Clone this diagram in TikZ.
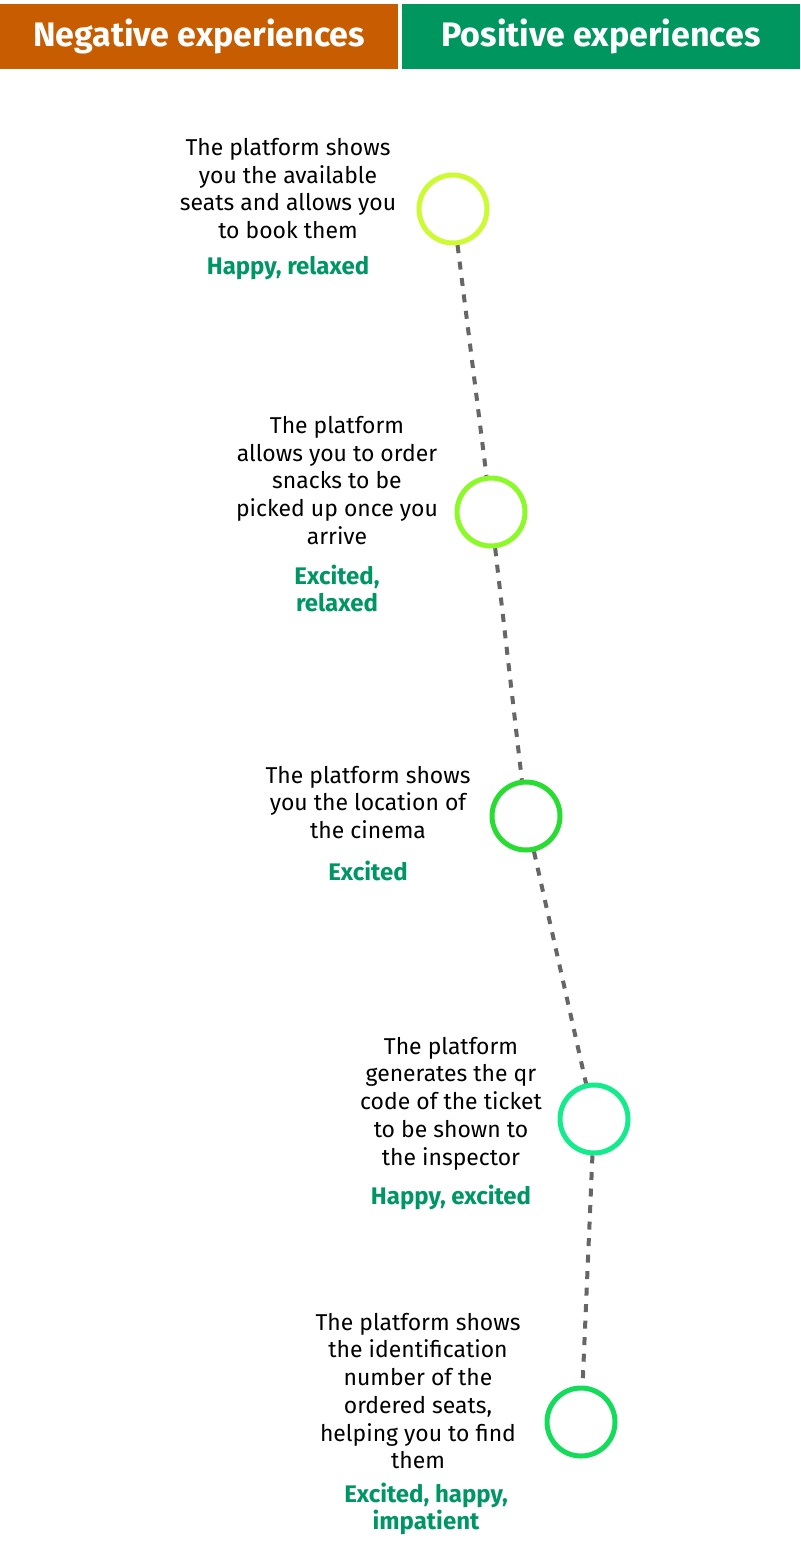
\documentclass[tikz,border=0pt]{standalone}
\usepackage{fontspec}
\setmainfont{Fira Sans}
\usetikzlibrary{positioning}
\definecolor{negorange}{RGB}{200,92,0}
\definecolor{posgreen}{RGB}{0,150,96}
\definecolor{emogreen}{RGB}{0,150,100}
\definecolor{trailgrey}{RGB}{102,102,102}
\definecolor{ringA}{RGB}{204,250,51}
\definecolor{ringB}{RGB}{140,250,40}
\definecolor{ringC}{RGB}{40,220,50}
\definecolor{ringD}{RGB}{20,235,140}
\definecolor{ringE}{RGB}{20,220,90}

\tikzset{
  header/.style={minimum width=298.5pt, minimum height=48.75pt, inner sep=0pt, text=white, font=\fontsize{25.5}{28}\selectfont\bfseries},
  ring/.style={circle, draw=#1, line width=3.75pt, minimum size=51pt, inner sep=0pt},
  step text/.style={align=center, font=\fontsize{17.2}{20.8}\selectfont},
  emo/.style={align=center, text=emogreen, font=\fontsize{18}{20.3}\selectfont\bfseries},
  trail/.style={draw=trailgrey, line width=3pt, dash pattern=on 6pt off 6.4pt}
}

\begin{document}
\begin{tikzpicture}[x=0.75pt,y=-0.75pt]
\useasboundingbox (0,0) rectangle (800,1562);

\node [header, fill=negorange] (neg) at (199,36.5) {Negative experiences};
\node [header, fill=posgreen] (pos) at (601,36.5) {Positive experiences};

\node [ring=ringA] (c1) at (453,209) {};
\node [ring=ringB] (c2) at (491,512) {};
\node [ring=ringC] (c3) at (526,816) {};
\node [ring=ringD] (c4) at (594,1119) {};
\node [ring=ringE] (c5) at (581,1422) {};

\draw [trail] (c1) -- (c2);
\draw [trail] (c2) -- (c3);
\draw [trail] (c3) -- (c4);
\draw [trail] (c4) -- (c5);

\node [step text] (t1) at (288,188.5) {The platform shows\\ you the available\\ seats and allows you\\ to book them};
\node [emo] (e1) at (288,268) {Happy, relaxed};

\node [step text] (t2) at (337,480.5) {The platform\\ allows you to order\\ snacks to be\\ picked up once you\\ arrive};
\node [emo] (e2) at (337,588.5) {Excited,\\ relaxed};

\node [step text] (t3) at (368,802.5) {The platform shows\\ you the location of\\ the cinema};
\node [emo] (e3) at (368,871) {Excited};

\node [step text] (t4) at (451,1103.5) {The platform\\ generates the qr\\ code of the ticket\\ to be shown to\\ the inspector};
\node [emo] (e4) at (451,1197) {Happy, excited};

\node [step text] (t5) at (418,1391) {The platform shows\\ the identification\\ number of the\\ ordered seats,\\ helping you to find\\ them};
\node [emo] (e5) at (426,1509) {Excited, happy,\\ impatient};
\end{tikzpicture}
\end{document}
